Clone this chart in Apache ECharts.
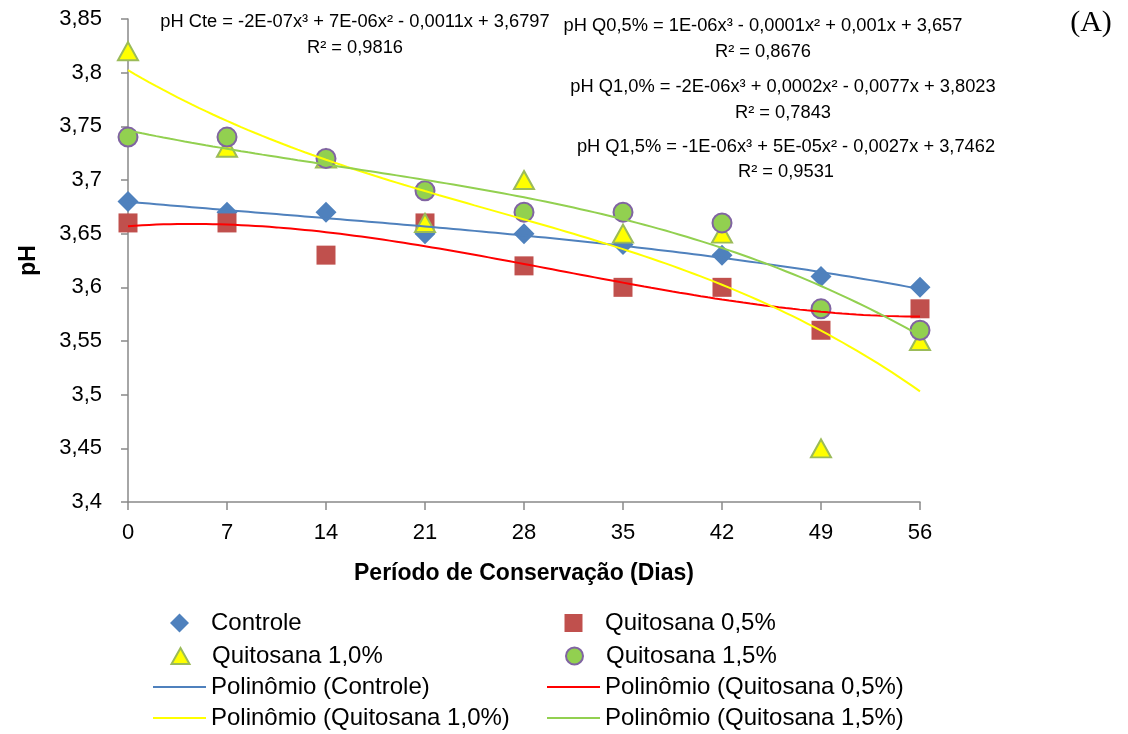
<!DOCTYPE html>
<html>
<head>
<meta charset="utf-8">
<script src="https://cdn.jsdelivr.net/npm/echarts@6/dist/echarts.min.js"></script>
<style>
html,body{margin:0;padding:0;background:#fff;}
#chart{width:1128px;height:734px;}
</style>
</head>
<body>
<div id="chart"></div>
<script>
// ---- data ----
var days = [0, 7, 14, 21, 28, 35, 42, 49, 56];
var controle = [3.68, 3.67, 3.67, 3.65, 3.65, 3.64, 3.63, 3.61, 3.60];
var quit05   = [3.66, 3.66, 3.63, 3.66, 3.62, 3.60, 3.60, 3.56, 3.58];
var quit10   = [3.82, 3.73, 3.72, 3.66, 3.70, 3.65, 3.65, 3.45, 3.55];
var quit15   = [3.74, 3.74, 3.72, 3.69, 3.67, 3.67, 3.66, 3.58, 3.56];
var xTicks = [0, 7, 14, 21, 28, 35, 42, 49, 56];
var yTicks = [3.4, 3.45, 3.5, 3.55, 3.6, 3.65, 3.7, 3.75, 3.8, 3.85];
var seriesNames = ['Controle', 'Quitosana 0,5%', 'Quitosana 1,0%', 'Quitosana 1,5%'];
var trendNames = ['Polin\u00F4mio (Controle)', 'Polin\u00F4mio (Quitosana 0,5%)', 'Polin\u00F4mio (Quitosana 1,0%)', 'Polin\u00F4mio (Quitosana 1,5%)'];
var equations = [
  ['pH Cte = -2E-07x\u00B3 + 7E-06x\u00B2 - 0,0011x + 3,6797', 'R\u00B2 = 0,9816'],
  ['pH Q0,5% = 1E-06x\u00B3 - 0,0001x\u00B2 + 0,001x + 3,657', 'R\u00B2 = 0,8676'],
  ['pH Q1,0% = -2E-06x\u00B3 + 0,0002x\u00B2 - 0,0077x + 3,8023', 'R\u00B2 = 0,7843'],
  ['pH Q1,5% = -1E-06x\u00B3 + 5E-05x\u00B2 - 0,0027x + 3,7462', 'R\u00B2 = 0,9531']
];

// ---- cubic least-squares trendline (as the spreadsheet does) ----
function cubicFit(xs, ys) {
  var n = 4, A = [], i, j, k;
  for (i = 0; i < n; i++) { A.push([]); for (j = 0; j <= n; j++) A[i].push(0); }
  for (k = 0; k < xs.length; k++) {
    var t = xs[k] / 56;
    for (i = 0; i < n; i++) {
      for (j = 0; j < n; j++) A[i][j] += Math.pow(t, i + j);
      A[i][n] += ys[k] * Math.pow(t, i);
    }
  }
  for (i = 0; i < n; i++) {
    var p = i;
    for (j = i + 1; j < n; j++) if (Math.abs(A[j][i]) > Math.abs(A[p][i])) p = j;
    var tmp = A[i]; A[i] = A[p]; A[p] = tmp;
    for (j = i + 1; j < n; j++) {
      var f = A[j][i] / A[i][i];
      for (k = i; k <= n; k++) A[j][k] -= f * A[i][k];
    }
  }
  var c = [0, 0, 0, 0];
  for (i = n - 1; i >= 0; i--) {
    var s = A[i][n];
    for (j = i + 1; j < n; j++) s -= A[i][j] * c[j];
    c[i] = s / A[i][i];
  }
  return function (x) { var t = x / 56; return c[0] + c[1] * t + c[2] * t * t + c[3] * t * t * t; };
}
function trend(ys) {
  var f = cubicFit(days, ys), out = [];
  for (var x = 0; x <= 56.0001; x += 0.5) out.push([x, f(x)]);
  return out;
}
function pts(ys) { return days.map(function (d, i) { return [d, ys[i]]; }); }

var FONT = 'Liberation Sans';
var chart = echarts.init(document.getElementById('chart'), null, { renderer: 'canvas' });

var eqPos = [[355, 22, 48], [763, 26, 52], [783, 87, 113], [786, 147, 172]];
var graphics = [];
equations.forEach(function (eq, i) {
  graphics.push({ type: 'text', x: eqPos[i][0], y: eqPos[i][1], z: 100,
    style: { text: eq[0], align: 'center', verticalAlign: 'middle', fontFamily: FONT, fontSize: 18.3, fill: '#000' } });
  graphics.push({ type: 'text', x: eqPos[i][0], y: eqPos[i][2], z: 100,
    style: { text: eq[1], align: 'center', verticalAlign: 'middle', fontFamily: FONT, fontSize: 18.3, fill: '#000' } });
});
graphics.push({ type: 'text', x: 1091, y: 23, z: 100,
  style: { text: '(A)', align: 'center', verticalAlign: 'middle', fontFamily: 'Liberation Serif', fontSize: 30, fill: '#000' } });

// legend icons: each path spans the full 53x19 icon box (anchor moves) with the mark centred
var ICON_DIAMOND = 'path://M0,0 M53,19 M26.5,0 L36,9.5 L26.5,19 L17,9.5 Z';
var ICON_SQUARE = 'path://M0,0 M53,19 M17.5,0.5 L35.5,0.5 L35.5,18.5 L17.5,18.5 Z';
var ICON_TRIANGLE = 'path://M0,0 M53,19 M26.5,1.5 L35.5,17.5 L17.5,17.5 Z';
var ICON_CIRCLE = 'path://M0,0 M53,19 M18,9.5 A8.5,8.5 0 1,1 35,9.5 A8.5,8.5 0 1,1 18,9.5 Z';
var ICON_LINE = 'path://M0,0 L106,0 L106,4 L0,4 Z';

var legendText = { fontFamily: FONT, fontSize: 24, color: '#000', lineHeight: 24 };
function legendItem(name, icon, left, centerY, iconH) {
  return { orient: 'horizontal', left: left, top: centerY - 12, padding: 0,
    itemWidth: 53, itemHeight: iconH, textStyle: legendText, selectedMode: false,
    data: [{ name: name, icon: icon }] };
}
var rowY = [623, 656, 687, 718];
var colX = [153, 547];

var option = {
  animation: false,
  backgroundColor: '#fff',
  grid: { left: 128, right: 208, top: 19, bottom: 232, containLabel: false },
  xAxis: {
    type: 'value', min: 0, max: 56, interval: 7,
    name: 'Per\u00EDodo de Conserva\u00E7\u00E3o (Dias)', nameLocation: 'middle', nameGap: 60,
    nameTextStyle: { fontFamily: FONT, fontSize: 23, fontWeight: 'bold', color: '#000' },
    axisLine: { show: true, onZero: false, lineStyle: { color: '#898989', width: 1.5 } },
    axisTick: { show: true, inside: false, length: 8, lineStyle: { color: '#898989', width: 1.5 } },
    axisLabel: { fontFamily: FONT, fontSize: 22, color: '#000', margin: 20,
      formatter: function (v) { return xTicks.indexOf(v) >= 0 ? String(v) : ''; } },
    splitLine: { show: false }
  },
  yAxis: {
    type: 'value', min: 3.4, max: 3.85, interval: 0.05,
    name: 'pH', nameLocation: 'middle', nameGap: 88, nameRotate: 90,
    nameTextStyle: { fontFamily: FONT, fontSize: 23, fontWeight: 'bold', color: '#000' },
    axisLine: { show: true, onZero: false, lineStyle: { color: '#898989', width: 1.5 } },
    axisTick: { show: true, inside: false, length: 7, lineStyle: { color: '#898989', width: 1.5 } },
    axisLabel: { fontFamily: FONT, fontSize: 22, color: '#000', margin: 26,
      formatter: function (v) {
        for (var i = 0; i < yTicks.length; i++) if (Math.abs(yTicks[i] - v) < 1e-6) return String(yTicks[i]).replace('.', ',');
        return '';
      } },
    splitLine: { show: false }
  },
  legend: [
    legendItem(seriesNames[0], ICON_DIAMOND, colX[0], rowY[0], 19),
    legendItem(seriesNames[2], ICON_TRIANGLE, colX[0], rowY[1], 19),
    legendItem(trendNames[0], ICON_LINE, colX[0], rowY[2], 2),
    legendItem(trendNames[2], ICON_LINE, colX[0], rowY[3], 2),
    legendItem(seriesNames[1], ICON_SQUARE, colX[1], rowY[0], 19),
    legendItem(seriesNames[3], ICON_CIRCLE, colX[1], rowY[1], 19),
    legendItem(trendNames[1], ICON_LINE, colX[1], rowY[2], 2),
    legendItem(trendNames[3], ICON_LINE, colX[1], rowY[3], 2)
  ],
  graphic: graphics,
  series: [
    { name: seriesNames[0], type: 'scatter', data: pts(controle), symbol: 'diamond', symbolSize: 21,
      itemStyle: { color: '#4F81BD', opacity: 1 }, z: 2 },
    { name: seriesNames[1], type: 'scatter', data: pts(quit05), symbol: 'rect', symbolSize: 19,
      itemStyle: { color: '#C0504D', opacity: 1 }, z: 2 },
    { name: seriesNames[2], type: 'scatter', data: pts(quit10), symbol: 'triangle', symbolSize: [20, 18],
      itemStyle: { color: '#FFFF00', borderColor: '#9BBB59', borderWidth: 2, opacity: 1 }, z: 2 },
    { name: seriesNames[3], type: 'scatter', data: pts(quit15), symbol: 'circle', symbolSize: 19,
      itemStyle: { color: '#92D050', borderColor: '#8064A2', borderWidth: 2, opacity: 1 }, z: 2 },
    { name: trendNames[0], type: 'line', data: trend(controle), symbol: 'none', smooth: false,
      lineStyle: { color: '#4F81BD', width: 2 }, itemStyle: { color: '#4F81BD' }, z: 3 },
    { name: trendNames[1], type: 'line', data: trend(quit05), symbol: 'none', smooth: false,
      lineStyle: { color: '#FF0000', width: 2 }, itemStyle: { color: '#FF0000' }, z: 3 },
    { name: trendNames[2], type: 'line', data: trend(quit10), symbol: 'none', smooth: false,
      lineStyle: { color: '#FFFF00', width: 2 }, itemStyle: { color: '#FFFF00' }, z: 3 },
    { name: trendNames[3], type: 'line', data: trend(quit15), symbol: 'none', smooth: false,
      lineStyle: { color: '#92D050', width: 2 }, itemStyle: { color: '#92D050' }, z: 3 }
  ]
};
chart.setOption(option);
</script>
</body>
</html>
